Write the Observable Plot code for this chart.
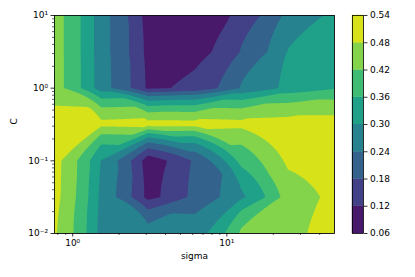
<!DOCTYPE html>
<html><head><meta charset="utf-8">
<script src="https://cdn.jsdelivr.net/npm/d3@7"></script>
<script src="https://cdn.jsdelivr.net/npm/@observablehq/plot@0.6"></script>
<style>
html,body{margin:0;padding:0;background:#fff;}
#chart{display:flex;width:415px;height:277px;overflow:hidden;}
</style></head><body><div id="chart"></div>
<script>
// grid of the search: sigma (x) and C (y)
const sigma = [0.762, 1.530, 3.072, 6.169, 12.39, 24.87, 49.9];
const Cvals = [10, 3.162, 1, 0.3162, 0.1, 0.03162, 0.01];
// scores, one row per C value (top to bottom), one column per sigma
const scoreC10    = [0.447, 0.263, 0.092, 0.070, 0.141, 0.259, 0.318];
const scoreC3     = [0.447, 0.263, 0.101, 0.094, 0.184, 0.302, 0.335];
const scoreC1     = [0.447, 0.265, 0.110, 0.135, 0.245, 0.320, 0.355];
const scoreC03    = [0.500, 0.497, 0.505, 0.503, 0.498, 0.503, 0.503];
const scoreC01    = [0.502, 0.297, 0.085, 0.190, 0.385, 0.494, 0.510];
const scoreC003   = [0.500, 0.285, 0.100, 0.200, 0.288, 0.454, 0.496];
const scoreC001   = [0.488, 0.277, 0.268, 0.266, 0.432, 0.465, 0.510];
const scoreRows = [scoreC10, scoreC3, scoreC1, scoreC03, scoreC01, scoreC003, scoreC001];

const levels = [0.06, 0.12, 0.18, 0.24, 0.30, 0.36, 0.42, 0.48, 0.54];
const xMajor = [1, 10];
const xMajorLabels = ["10⁰", "10¹"];
const xMinor = [0.8, 0.9, 2, 3, 4, 5, 6, 7, 8, 9, 20, 30, 40];
const yMajor = [0.01, 0.1, 1, 10];
const yMajorLabels = ["10⁻²", "10⁻¹", "10⁰", "10¹"];
const yMinor = [0.02,0.03,0.04,0.05,0.06,0.07,0.08,0.09,0.2,0.3,0.4,0.5,0.6,0.7,0.8,0.9,2,3,4,5,6,7,8,9];

const cells = scoreRows.flatMap((row, j) => row.map((s, i) => ({sigma: sigma[i], C: Cvals[j], score: s})));
const bandColors = levels.slice(0, -1).map((_, i) => d3.interpolateViridis((i + 0.5) / 8));
const fillLevels = levels.slice(0, -1);
const bands = fillLevels.map((lo, i) => ({lo, hi: levels[i + 1]}));
const xLab = new Map(xMajor.map((d, i) => [d, xMajorLabels[i]]));
const yLab = new Map(yMajor.map((d, i) => [d, yMajorLabels[i]]));

// piecewise-linear interpolation of the grid, done in data space (as matplotlib's
// contourf does) and shown on the log axes; each cell is split along a diagonal
function gridInterpolate(index, width, height, X, Y, V) {
  const key = v => Math.round(v * 1e4) / 1e4;
  const xm = new Map(), ym = new Map();
  for (const i of index) { xm.set(key(X[i]), cells[i].sigma); ym.set(key(Y[i]), cells[i].C); }
  const xs = [...xm.keys()].sort((a, b) => a - b), xd = xs.map(k => xm.get(k));
  const ys = [...ym.keys()].sort((a, b) => a - b), yd = ys.map(k => ym.get(k));
  const G = ys.map(() => new Array(xs.length).fill(0));
  for (const i of index) G[ys.indexOf(key(Y[i]))][xs.indexOf(key(X[i]))] = V[i];
  // diagonal choice per cell: join the two corners closest to the cell mean
  const D = [];
  for (let r = 0; r < ys.length - 1; r++) {
    D.push([]);
    for (let c = 0; c < xs.length - 1; c++) {
      const a = G[r][c], b = G[r][c + 1], e = G[r + 1][c], f = G[r + 1][c + 1];
      const m = (a + b + e + f) / 4;
      D[r].push(Math.abs(a - m) + Math.abs(f - m) <= Math.abs(b - m) + Math.abs(e - m));
    }
  }
  function frac(p, ps, ds) {
    let k = 0;
    while (k < ps.length - 2 && p > ps[k + 1]) k++;
    let f = (p - ps[k]) / (ps[k + 1] - ps[k]);
    f = Math.max(0, Math.min(1, f));
    const d = ds[k] * Math.pow(ds[k + 1] / ds[k], f);
    return [k, (d - ds[k]) / (ds[k + 1] - ds[k])];
  }
  const W = new Float64Array(width * height);
  const FX = Array.from({length: width}, (_, c) => frac(c + 0.5, xs, xd));
  for (let r = 0; r < height; r++) {
    const [ky, u] = frac(r + 0.5, ys, yd);
    for (let c = 0; c < width; c++) {
      const [kx, t] = FX[c];
      const tl = G[ky][kx], tr = G[ky][kx + 1], bl = G[ky + 1][kx], br = G[ky + 1][kx + 1];
      let v;
      if (D[ky][kx]) { // diagonal tl-br
        v = t >= u ? tl + t * (tr - tl) + u * (br - tr) : tl + u * (bl - tl) + t * (br - bl);
      } else {         // diagonal tr-bl
        v = t + u <= 1 ? tl + t * (tr - tl) + u * (bl - tl)
                       : br + (1 - t) * (bl - br) + (1 - u) * (tr - br);
      }
      W[r * width + c] = v;
    }
  }
  return W;
}

const font = {fontFamily: "DejaVu Sans", fontSize: "9px", color: "black", background: "white", overflow: "visible"};
const colorScale = {type: "ordinal", domain: fillLevels, range: bandColors};

const main = Plot.plot({
  width: 345, height: 277,
  marginLeft: 54, marginRight: 11, marginTop: 15, marginBottom: 44,
  style: font,
  x: {type: "log", domain: [sigma[0], sigma[sigma.length - 1]]},
  y: {type: "log", domain: [0.01, 10]},
  color: colorScale,
  marks: [
    Plot.frame({fill: bandColors[0]}),
    Plot.contour(cells, {x: "sigma", y: "C", fill: "score", thresholds: fillLevels,
      interpolate: gridInterpolate, pixelSize: 1, clip: true}),
    Plot.frame({stroke: "black", strokeWidth: 0.8}),
    Plot.axisX(xMajor, {tickSize: 3.5, tickPadding: 3, strokeWidth: 0.8, tickFormat: d => xLab.get(d), label: null}),
    Plot.axisX(xMinor, {tickSize: 2, strokeWidth: 0.6, tickFormat: () => "", label: null}),
    Plot.axisY(yMajor, {tickSize: 3.5, tickPadding: 3, strokeWidth: 0.8, tickFormat: d => yLab.get(d), label: null}),
    Plot.axisY(yMinor, {tickSize: 2, strokeWidth: 0.6, tickFormat: () => "", label: null}),
    Plot.text(["sigma"], {frameAnchor: "bottom", dy: 25, text: d => d, fontSize: 9}),
    Plot.text(["C"], {frameAnchor: "left", dx: -40, rotate: -90, text: d => d, fontSize: 9})
  ]
});

const bar = Plot.plot({
  width: 70, height: 277,
  marginLeft: 7, marginRight: 52, marginTop: 15, marginBottom: 44,
  style: font,
  y: {domain: [levels[0], levels[levels.length - 1]]},
  color: colorScale,
  marks: [
    Plot.barY(bands, {y1: "lo", y2: "hi", fill: "lo", stroke: "lo", strokeWidth: 0.4}),
    Plot.frame({stroke: "black", strokeWidth: 0.8}),
    Plot.axisY(levels, {anchor: "right", tickSize: 3.5, tickPadding: 3, strokeWidth: 0.8,
      tickFormat: d3.format(".2f"), label: null})
  ]
});

document.getElementById("chart").append(main, bar);
</script></body></html>
